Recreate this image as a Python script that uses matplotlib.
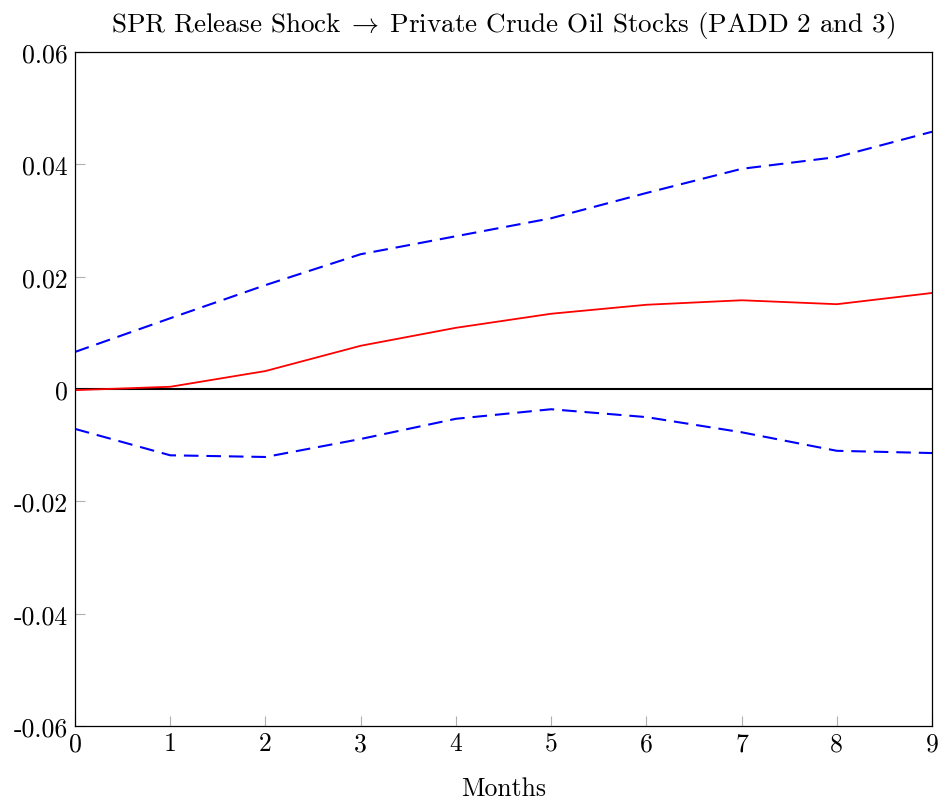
import numpy as np
import matplotlib.pyplot as plt

plt.rcParams['font.family'] = 'serif'
plt.rcParams['font.serif'] = ['cmr10']
plt.rcParams['mathtext.fontset'] = 'cm'
plt.rcParams['axes.unicode_minus'] = False

months = np.arange(0, 10)
irf = [-0.0002, 0.0004, 0.0032, 0.0077, 0.0109, 0.0134, 0.0150, 0.0158, 0.0151, 0.0171]
upper = [0.0066, 0.0126, 0.0185, 0.0240, 0.0272, 0.0304, 0.0349, 0.0392, 0.0413, 0.0458]
lower = [-0.0071, -0.0118, -0.0121, -0.0089, -0.0053, -0.0036, -0.0050, -0.0077, -0.0110, -0.0114]

yticks = [-0.06, -0.04, -0.02, 0, 0.02, 0.04, 0.06]
ytick_labels = ['-0.06', '-0.04', '-0.02', '0', '0.02', '0.04', '0.06']

fig = plt.figure(figsize=(9.47, 8.03), dpi=100)
ax = fig.add_axes([0.0792, 0.0946, 0.905, 0.8394])

ax.axhline(0, color='black', lw=1.5, zorder=1)
ax.plot(months, upper, color='blue', ls=(0, (7, 3.8)), lw=1.5)
ax.plot(months, lower, color='blue', ls=(0, (7, 3.8)), lw=1.5)
ax.plot(months, irf, color='red', lw=1.3)

ax.set_xlim(0, 9)
ax.set_ylim(-0.06, 0.06)
ax.set_xticks(months)
ax.set_yticks(yticks)
ax.set_yticklabels(ytick_labels)
ax.tick_params(direction='in', length=7, color='#b0b0b0', labelsize=18.5)
ax.tick_params(axis='x', pad=4)
ax.tick_params(axis='y', pad=5)
for s in ax.spines.values():
    s.set_linewidth(0.9)

ax.set_xlabel('Months', fontsize=18.5, labelpad=15)
ax.set_title(r'SPR Release Shock$\;\rightarrow\;$Private Crude Oil Stocks (PADD 2 and 3)', fontsize=19.5, pad=15)

fig.savefig('out.png', dpi=100)
